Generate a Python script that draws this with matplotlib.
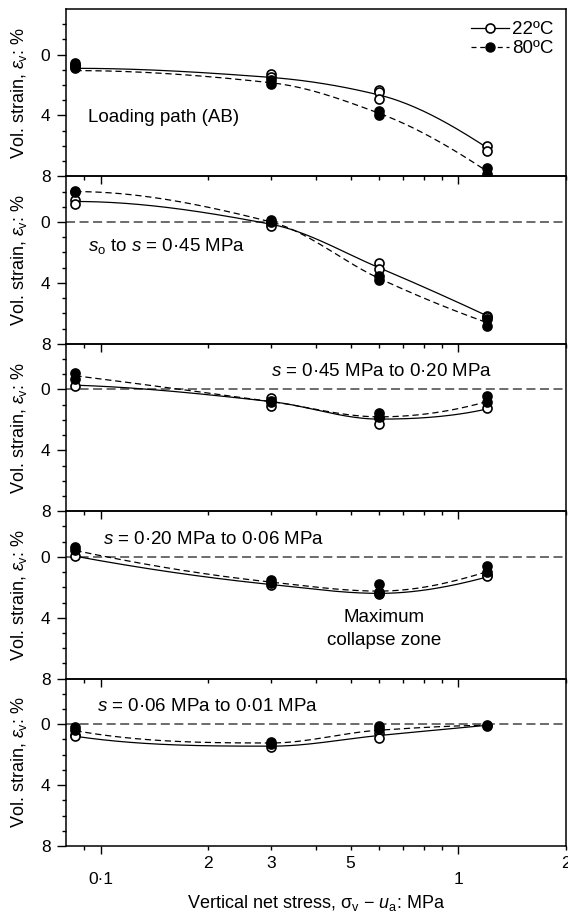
import numpy as np
import matplotlib
matplotlib.use('Agg')
import matplotlib.pyplot as plt
from matplotlib.ticker import FixedLocator, FixedFormatter
from matplotlib.lines import Line2D

plt.rcParams['font.family'] = ['Liberation Sans', 'DejaVu Sans']
plt.rcParams['mathtext.fontset'] = 'custom'
plt.rcParams['mathtext.rm'] = 'Liberation Sans'
plt.rcParams['mathtext.it'] = 'Liberation Sans:italic'
plt.rcParams['mathtext.bf'] = 'Liberation Sans:bold'

# vertical net stress levels, MPa
stress = [0.085, 0.3, 0.6, 1.2]

# replicate readings of vol. strain (%) at each stress level
p1_22 = [[0.7, 0.8], [1.3, 1.5], [2.3, 2.45, 2.9], [6.0, 6.35]]
p1_80 = [[0.55, 0.7, 0.85], [1.7, 1.95], [3.7, 3.95], [7.45, 7.85]]
p1_fit22 = [0.9, 1.5, 2.65, 6.1]
p1_fit80 = [1.05, 1.85, 3.85, 7.65]

p2_22 = [[-1.45, -1.2], [0.1, 0.25], [2.7, 3.1], [6.15, 6.25]]
p2_80 = [[-2.05, -1.95], [-0.15, 0.0], [3.55, 3.8], [6.35, 6.85]]
p2_fit22 = [-1.35, 0.15, 3.0, 6.15]
p2_fit80 = [-2.0, 0.0, 3.7, 6.6]

p3_22 = [[-0.22], [0.57, 1.12], [1.85, 2.28], [1.25]]
p3_80 = [[-1.09, -0.7], [0.74, 0.85], [1.58, 1.8], [0.46, 0.85]]
p3_fit22 = [-0.28, 0.8, 1.95, 1.29]
p3_fit80 = [-0.9, 0.8, 1.8, 0.8]

p4_22 = [[-0.04], [1.86], [2.32], [1.16, 1.27]]
p4_80 = [[-0.66, -0.44], [1.55, 1.7], [1.77, 2.36, 2.47], [0.57, 1.0]]
p4_fit22 = [-0.04, 1.82, 2.4, 1.33]
p4_fit80 = [-0.42, 1.66, 2.25, 0.98]

p5_22 = [[0.68, 0.79], [1.49], [0.57, 0.92], [0.09]]
p5_80 = [[0.18, 0.35], [1.14, 1.29], [0.13, 0.31], [0.04]]
p5_fit22 = [0.79, 1.44, 0.74, 0.07]
p5_fit80 = [0.42, 1.23, 0.39, 0.07]

panels = [
    (p1_22, p1_80, p1_fit22, p1_fit80, False),
    (p2_22, p2_80, p2_fit22, p2_fit80, True),
    (p3_22, p3_80, p3_fit22, p3_fit80, True),
    (p4_22, p4_80, p4_fit22, p4_fit80, True),
    (p5_22, p5_80, p5_fit22, p5_fit80, True),
]

major_x = [0.1, 1.0]
major_xlabels = ['0·1', '1']
minor_x = [0.09, 0.2, 0.3, 0.4, 0.5, 0.6, 0.7, 0.8, 0.9, 2.0]
minor_xlabels = ['', '2', '3', '', '5', '', '', '', '', '2']


def smooth(xs, ys, n=150):
    # monotone cubic (pchip style) through the fitted-curve values, in log stress
    x = np.log10(xs)
    y = np.asarray(ys, float)
    h = np.diff(x)
    d = np.diff(y) / h
    m = np.zeros_like(y)
    for k in range(1, len(x) - 1):
        if d[k - 1] * d[k] > 0:
            w1 = 2 * h[k] + h[k - 1]
            w2 = h[k] + 2 * h[k - 1]
            m[k] = (w1 + w2) / (w1 / d[k - 1] + w2 / d[k])

    def end(h0, h1, d0, d1):
        s = ((2 * h0 + h1) * d0 - h0 * d1) / (h0 + h1)
        if np.sign(s) != np.sign(d0):
            s = 0.0
        elif np.sign(d0) != np.sign(d1) and abs(s) > abs(3 * d0):
            s = 3 * d0
        return s
    m[0] = end(h[0], h[1], d[0], d[1])
    m[-1] = end(h[-1], h[-2], d[-1], d[-2])

    xx = np.linspace(x[0], x[-1], n)
    idx = np.clip(np.searchsorted(x, xx) - 1, 0, len(x) - 2)
    t = (xx - x[idx]) / h[idx]
    h00 = 2 * t**3 - 3 * t**2 + 1
    h10 = t**3 - 2 * t**2 + t
    h01 = -2 * t**3 + 3 * t**2
    h11 = t**3 - t**2
    yy = h00 * y[idx] + h10 * h[idx] * m[idx] + h01 * y[idx + 1] + h11 * h[idx] * m[idx + 1]
    return 10 ** xx, yy


def scatter_reps(ax, reps, **kw):
    xs = []
    ys = []
    for s, vals in zip(stress, reps):
        for v in vals:
            xs.append(s)
            ys.append(v)
    ax.plot(xs, ys, linestyle='none', marker='o', markersize=6.5,
            markeredgecolor='black', markeredgewidth=1.2, zorder=3, **kw)


fig, axes = plt.subplots(5, 1, figsize=(5.68, 9.15), dpi=100, sharex=True)
fig.subplots_adjust(left=0.1162, right=0.9965, top=0.9902, bottom=0.0754, hspace=0)

for i, (ax, (r22, r80, f22, f80, zero)) in enumerate(zip(axes, panels)):
    ax.patch.set_visible(False)
    if zero:
        ax.axhline(0, color='#606060', linestyle=(0, (5, 2.5)), linewidth=1.3, zorder=1)
    x, y = smooth(stress, f22)
    ax.plot(x, y, color='black', linewidth=0.9, zorder=2)
    x, y = smooth(stress, f80)
    ax.plot(x, y, color='black', linewidth=0.9, linestyle=(0, (5, 3)), zorder=2)
    scatter_reps(ax, r22, markerfacecolor='white')
    scatter_reps(ax, r80, markerfacecolor='black')

    ax.set_xscale('log')
    ax.set_xlim(0.08, 2.0)
    ax.set_ylim(8, -3)
    ax.yaxis.set_major_locator(FixedLocator([0, 4, 8]))
    ax.yaxis.set_minor_locator(FixedLocator([-2, -1, 1, 2, 3, 5, 6, 7]))
    ax.tick_params(axis='y', which='major', direction='out', length=6.2, width=1, pad=5, labelsize=12.5)
    ax.tick_params(axis='y', which='minor', direction='out', length=3.1, width=1)
    ax.xaxis.set_major_locator(FixedLocator(major_x))
    ax.xaxis.set_minor_locator(FixedLocator(minor_x))
    ax.tick_params(axis='x', which='major', direction='out', length=5.8, width=1, pad=13, labelsize=12.5)
    ax.tick_params(axis='x', which='minor', direction='out', length=2.9, width=1, pad=4.3, labelsize=12.5)
    for sp in ax.spines.values():
        sp.set_linewidth(1.1)
    ax.set_ylabel(r'Vol. strain, $\varepsilon_{\rm v}$: %', fontsize=13)
    ax.yaxis.set_label_coords(-0.075, 0.5)
    if i < 4:
        ax.tick_params(axis='x', which='both', labelbottom=False)

axes[4].xaxis.set_major_formatter(FixedFormatter(major_xlabels))
axes[4].xaxis.set_minor_formatter(FixedFormatter(minor_xlabels))
axes[4].set_xlabel(r'Vertical net stress, $\mathrm{\sigma}_{\rm v}$ $-$ $u_{\rm a}$: MPa', fontsize=13, labelpad=4)

fs = 13.5
axes[0].text(0.0922, 4.1, 'Loading path (AB)', fontsize=fs, va='center')
axes[1].text(0.0922, 1.6, r'$s_{\rm o}$ to $s$ = 0·45 MPa', fontsize=fs, va='center')
axes[2].text(0.3, -1.2, r'$s$ = 0·45 MPa to 0·20 MPa', fontsize=fs, va='center')
axes[3].text(0.1015, -1.14, r'$s$ = 0·20 MPa to 0·06 MPa', fontsize=fs, va='center')
axes[3].text(0.621, 4.72, 'Maximum\ncollapse zone', fontsize=fs, va='center', ha='center',
             linespacing=1.45)
axes[4].text(0.0977, -1.18, r'$s$ = 0·06 MPa to 0·01 MPa', fontsize=fs, va='center')

h22 = Line2D([], [], color='black', linewidth=0.9, marker='o', markersize=6.5,
             markerfacecolor='white', markeredgecolor='black', markeredgewidth=1.2)
h80 = Line2D([], [], color='black', linewidth=0.9, linestyle=(0, (4, 3)), marker='o',
             markersize=6.5, markerfacecolor='black', markeredgecolor='black')
axes[0].legend([h22, h80], ['22ºC', '80ºC'], loc='upper right', frameon=False,
               fontsize=13.5, handlelength=2.0, handletextpad=0.2, labelspacing=0.1,
               borderaxespad=0.45, borderpad=0.2)

fig.savefig('out.png', dpi=100)
